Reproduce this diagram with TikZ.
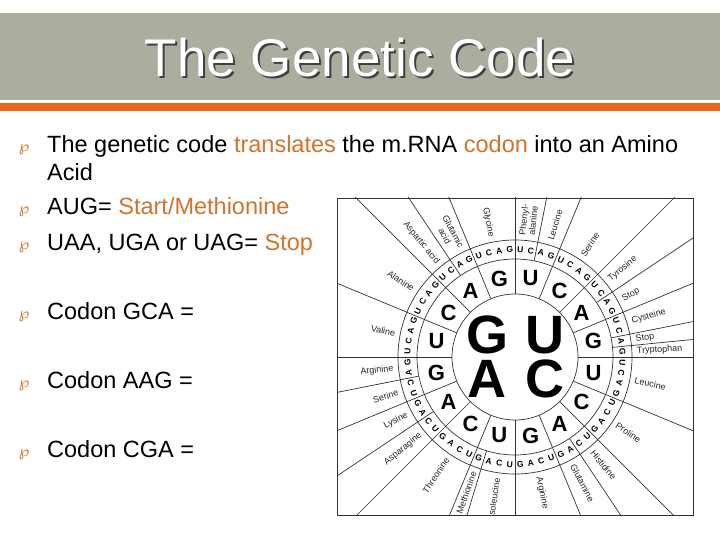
\documentclass[tikz,border=0pt]{standalone}
\usepackage{fontspec}
\setmainfont{Liberation Sans}
\newfontfamily\djv{DejaVu Sans}
\definecolor{hdr}{HTML}{A9AE9F}
\definecolor{org}{HTML}{E8671A}
\definecolor{txto}{HTML}{D0732E}
\begin{document}
\begin{tikzpicture}[x=1pt,y=1pt,
  body/.style={anchor=base west,font=\fontsize{23.5}{26}\selectfont,inner sep=0pt},
  bul/.style={anchor=base,font=\djv\fontsize{15}{15}\selectfont,text=txto,inner sep=0pt},
  wl/.style={line width=0.7pt,draw=black!80},
  ring/.style={font=\bfseries\fontsize{8.5}{8.5}\selectfont,inner sep=0pt},
  aa/.style={font=\fontsize{9}{9.5}\selectfont,align=center,inner sep=1pt,text=black!85}]
\useasboundingbox (0,0) rectangle (720,540);
\fill[white] (0,0) rectangle (720,540);
\fill[hdr] (0,440) rectangle (720,527);
\fill[org] (0,429) rectangle (720,437);
\node[font=\fontsize{53}{56}\selectfont,text=black!75] at (362,480) {The Genetic Code};
\node[font=\fontsize{53}{56}\selectfont,text=white] (title) at (360,482) {The Genetic Code};
% bullets
\foreach \y in {388,326,290,221,152,83} \node[bul] at (24,\y) {℘};
\node[body] (l1) at (47,387) {The genetic code \textcolor{txto}{translates} the m.RNA \textcolor{txto}{codon} into an Amino};
\node[body] (l1b) at (47,359) {Acid};
\node[body] (l2) at (47,325) {AUG= \textcolor{txto}{Start/Methionine}};
\node[body] (l3) at (47,289) {UAA, UGA or UAG= \textcolor{txto}{Stop}};
\node[body] (l4) at (47,220) {Codon GCA =};
\node[body] (l5) at (47,151) {Codon AAG =};
\node[body] (l6) at (47,82) {Codon CGA =};
% wheel
\coordinate (o) at (515,183);
\begin{scope}
\clip (337,25) rectangle (693,342);
\draw[wl] (515,10) -- (515,350);
\draw[wl] (330,183) -- (700,183);
\foreach \a in {22.5,45,67.5,112.5,135,157.5,202.5,225,247.5,292.5,315,337.5}
  \draw[wl] ([shift={(\a:63)}]o) -- ([shift={(\a:450)}]o);
\foreach \a in {78.75,33.75,11.25,5.625,-56.25,-106.875,-146.25,-168.75,123.75}
  \draw[wl] ([shift={(\a:98)}]o) -- ([shift={(\a:450)}]o);
\end{scope}
\fill[white] (o) circle (63);
\draw[wl] (o) circle (63) (o) circle (98) (o) circle (117);
\draw[wl] (337,25) rectangle (693,342);
% center letters
\foreach \l/\dx/\dy in {G/-28/22,U/30/22,A/-28/-22,C/30/-22}
  \node[font=\bfseries\fontsize{54}{54}\selectfont] at ([shift={(\dx,\dy)}]o) {\l};
% middle and outer rings
\foreach \q/\qa in {U/90,C/0,A/-90,G/180}{
  \foreach \s [count=\i from 0] in {U,C,A,G}{
    \pgfmathsetmacro\ma{\qa-22.5*\i-11.25}
    \node[font=\bfseries\fontsize{22}{22}\selectfont] at ([shift={(\ma:80)}]o) {\s};
    \foreach \t [count=\k from 0] in {U,C,A,G}{
      \pgfmathsetmacro\ta{\qa-22.5*\i-5.625*\k-2.8125}
      \pgfmathsetmacro\rr{sin(\ta)>=-0.2 ? \ta-90 : \ta+90}
      \node[ring,rotate=\rr] at ([shift={(\ta:107.5)}]o) {\t};
    }
  }
}
% amino acid labels
\begin{scope}
\clip (337,25) rectangle (693,342);
\foreach \a/\b/\n in {90/78.75/{Phenyl-\\alanine},78.75/67.5/Leucine,67.5/45/Serine,45/33.75/Tyrosine,33.75/22.5/Stop,22.5/11.25/Cysteine,11.25/5.625/Stop,5.625/0/Tryptophan,
  0/-22.5/Leucine,-22.5/-45/Proline,-45/-56.25/Histidine,-56.25/-67.5/Glutamine,-67.5/-90/Arginine,
  -90/-106.875/Isoleucine,-106.875/-112.5/Methionine,-112.5/-135/Threonine,-135/-146.25/Asparagine,-146.25/-157.5/Lysine,-157.5/-168.75/Serine,-168.75/-180/Arginine,
  180/157.5/Valine,157.5/135/Alanine,135/123.75/Aspartic acid,123.75/112.5/{Glutamic\\acid},112.5/90/Glycine}{
  \pgfmathsetmacro\m{(\a+\b)/2}
  \pgfmathparse{cos(\m)>=0?1:0}
  \ifnum\pgfmathresult=1
    \node[aa,anchor=west,rotate=\m] at ([shift={(\m:121)}]o) {\n};
  \else
    \node[aa,anchor=east,rotate=\m+180] at ([shift={(\m:121)}]o) {\n};
  \fi
}
\end{scope}
\end{tikzpicture}
\end{document}
